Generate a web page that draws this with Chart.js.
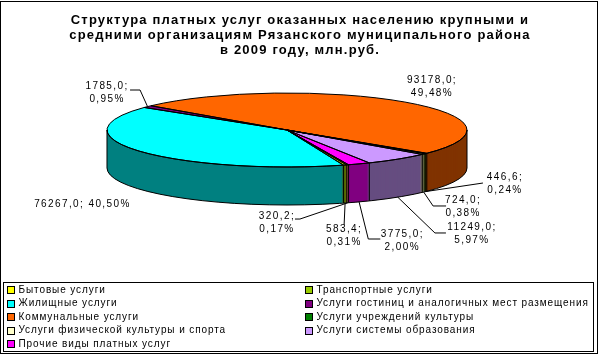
<!DOCTYPE html>
<html><head><meta charset="utf-8">
<script src="https://cdn.jsdelivr.net/npm/chart.js@4.4.1/dist/chart.umd.min.js"></script>
<style>html,body{margin:0;padding:0;background:#fff;}canvas{display:block;}</style>
</head><body>
<canvas id="c" width="601" height="355"></canvas>
<script>
// ---- data ----
const categories = [
  'Бытовые услуги',
  'Транспортные услуги',
  'Жилищные услуги',
  'Услуги гостиниц и аналогичных мест размещения',
  'Коммунальные услуги',
  'Услуги учреждений культуры',
  'Услуги физической культуры и спорта',
  'Услуги системы образования',
  'Прочие виды платных услуг'
];
const values = [320.2, 583.4, 76267.0, 1785.0, 93178.0, 446.6, 724.0, 11249.0, 3775.0];
const percents = ['0,17%', '0,31%', '40,50%', '0,95%', '49,48%', '0,24%', '0,38%', '5,97%', '2,00%'];
const titleLines = [
  'Структура платных услуг оказанных населению крупными и',
  'средними организациям Рязанского муниципального района',
  'в 2009 году, млн.руб.'
];

// ---- style / layout ----
const colors = ['#FFFF00','#99CC00','#00FFFF','#800080','#FF6600','#008000','#FFFFCC','#CC99FF','#FF00FF'];
function shade(hex, f) {
  const n = parseInt(hex.slice(1), 16);
  const r = Math.round(((n >> 16) & 255) * f), g = Math.round(((n >> 8) & 255) * f), b = Math.round((n & 255) * f);
  return 'rgb(' + r + ',' + g + ',' + b + ')';
}
const sideColors = colors.map(c => shade(c, 0.5));
const PIE = { cx: 287, cy: 130, rx: 180, ry: 37, depth: 38 };
const FONT = '"Liberation Sans", Arial, sans-serif';
// label placement relative to the slice anchor (text centre offset, leader polyline points)
const labelLayout = [
  { dx: -70.7, dy: 19.5, leader: [[-47.7, 16.2], [-52.7, 16.2]], oneLine: false },
  { dx: -1, dy: 33, leader: [[-1, 22]], oneLine: false },
  { dx: -57.8, dy: 14.6, leader: null, oneLine: true },
  { dx: -40.5, dy: -14.1, leader: [[-7.5, -16.6], [-17.5, -16.6]], oneLine: false },
  { dx: 29.3, dy: -14.7, leader: null, oneLine: false },
  { dx: 79, dy: -7.5, leader: [[57, -8.5]], oneLine: false },
  { dx: 39.4, dy: 14.4, leader: [[9.4, 13.9], [22.4, 13.9]], oneLine: false },
  { dx: 74.2, dy: 36.8, leader: [[37.2, 35.8], [48.2, 35.8]], oneLine: false },
  { dx: 43.2, dy: 38.6, leader: [[9.2, 37.1], [21.2, 37.1]], oneLine: false }
];

function fmt(v) { return v.toFixed(1).replace('.', ','); }

function applyT(ctx, el, dy) {
  const k = PIE.rx / el.outerRadius, m = PIE.ry / el.outerRadius;
  ctx.translate(PIE.cx, PIE.cy + dy);
  ctx.scale(k, m);
  ctx.translate(-el.x, -el.y);
}
function ellPt(a, dy) {
  return [PIE.cx + PIE.rx * Math.cos(a), PIE.cy + PIE.ry * Math.sin(a) + dy];
}
function norm(a) { const t = Math.PI * 2; return ((a % t) + t) % t; }

const pie3d = {
  id: 'pie3d',
  beforeDraw(chart) {
    const ctx = chart.ctx;
    ctx.save(); ctx.fillStyle = '#fff'; ctx.fillRect(0, 0, chart.width, chart.height); ctx.restore();
  },
  beforeDatasetsDraw(chart) {
    const ctx = chart.ctx;
    const arcs = chart.getDatasetMeta(0).data;
    // side walls (extruded layers)
    for (let d = PIE.depth; d >= 1; d--) {
      arcs.forEach((el, i) => {
        ctx.save(); applyT(ctx, el, d);
        const o = el.options;
        el.options = Object.assign({}, o, { backgroundColor: sideColors[i], borderWidth: 0 });
        el.draw(ctx);
        el.options = o;
        ctx.restore();
      });
    }
    // top face
    arcs.forEach(el => { ctx.save(); applyT(ctx, el, 0); el.draw(ctx); ctx.restore(); });
    // outlines (stroked in screen space)
    ctx.save();
    ctx.lineWidth = 1; ctx.strokeStyle = '#000';
    const el0 = arcs[0];
    ctx.beginPath();
    ctx.save(); applyT(ctx, el0, 0); ctx.arc(el0.x, el0.y, el0.outerRadius, 0, Math.PI); ctx.restore();
    ctx.save(); applyT(ctx, el0, PIE.depth); ctx.arc(el0.x, el0.y, el0.outerRadius, Math.PI, 0, true); ctx.restore();
    ctx.closePath();
    ctx.stroke();
    arcs.forEach(el => {
      const a = norm(el.startAngle);
      if (a > 0.02 && a < Math.PI - 0.02) {
        const p = ellPt(a, 0), q = ellPt(a, PIE.depth);
        ctx.beginPath(); ctx.moveTo(p[0], p[1]); ctx.lineTo(q[0], q[1]); ctx.stroke();
      }
    });
    arcs.forEach(el => {
      ctx.beginPath();
      ctx.save(); applyT(ctx, el, 0);
      ctx.moveTo(el.x, el.y);
      ctx.arc(el.x, el.y, el.outerRadius, el.startAngle, el.endAngle);
      ctx.closePath();
      ctx.restore();
      ctx.stroke();
    });
    ctx.restore();
    return false;
  },
  afterDraw(chart) {
    const ctx = chart.ctx;
    const arcs = chart.getDatasetMeta(0).data;
    ctx.save();
    ctx.strokeStyle = '#000'; ctx.lineWidth = 1;
    ctx.strokeRect(0.5, 1.5, 597, 352);
    // title
    ctx.fillStyle = '#000';
    ctx.textAlign = 'center'; ctx.textBaseline = 'middle';
    ctx.font = 'bold 13px ' + FONT;
    ctx.letterSpacing = '1.2px';
    titleLines.forEach((t, i) => ctx.fillText(t, 300, 20 + i * 15));
    // data labels
    ctx.font = '10px ' + FONT;
    ctx.letterSpacing = '1.4px';
    arcs.forEach((el, i) => {
      const mid = (el.startAngle + el.endAngle) / 2;
      const front = Math.sin(mid) > 0;
      const anc = ellPt(mid, front ? PIE.depth : 0);
      const L = labelLayout[i];
      if (L.leader) {
        ctx.beginPath(); ctx.moveTo(anc[0], anc[1]);
        L.leader.forEach(p => ctx.lineTo(anc[0] + p[0], anc[1] + p[1]));
        ctx.stroke();
      }
      const tx = anc[0] + L.dx, ty = anc[1] + L.dy;
      const v = fmt(values[i]) + ';';
      if (L.oneLine) {
        ctx.fillText(v + ' ' + percents[i], tx, ty);
      } else {
        ctx.fillText(v, tx, ty - 6.5);
        ctx.fillText(percents[i], tx, ty + 6.5);
      }
    });
    // legend
    ctx.strokeRect(3.5, 282.5, 590, 69);
    ctx.font = '10px ' + FONT;
    ctx.letterSpacing = '0.9px';
    ctx.textAlign = 'left';
    categories.forEach((c, i) => {
      const col = i % 2, row = Math.floor(i / 2);
      const sx = col === 0 ? 7 : 305;
      const y = 290 + row * 13.5;
      ctx.fillStyle = colors[i];
      ctx.fillRect(sx + 0.5, Math.round(y - 4) + 0.5, 7, 7);
      ctx.strokeRect(sx + 0.5, Math.round(y - 4) + 0.5, 7, 7);
      ctx.fillStyle = '#000';
      ctx.fillText(c, sx + 11.5, y);
    });
    ctx.restore();
  }
};

new Chart(document.getElementById('c'), {
  type: 'pie',
  data: {
    labels: categories,
    datasets: [{ data: values, backgroundColor: colors, borderWidth: 0, clip: false }]
  },
  options: {
    responsive: false,
    devicePixelRatio: 1,
    animation: false,
    rotation: 160,
    events: [],
    layout: { padding: 20 },
    plugins: { legend: { display: false }, title: { display: false }, tooltip: { enabled: false } }
  },
  plugins: [pie3d]
});
</script>
</body></html>
